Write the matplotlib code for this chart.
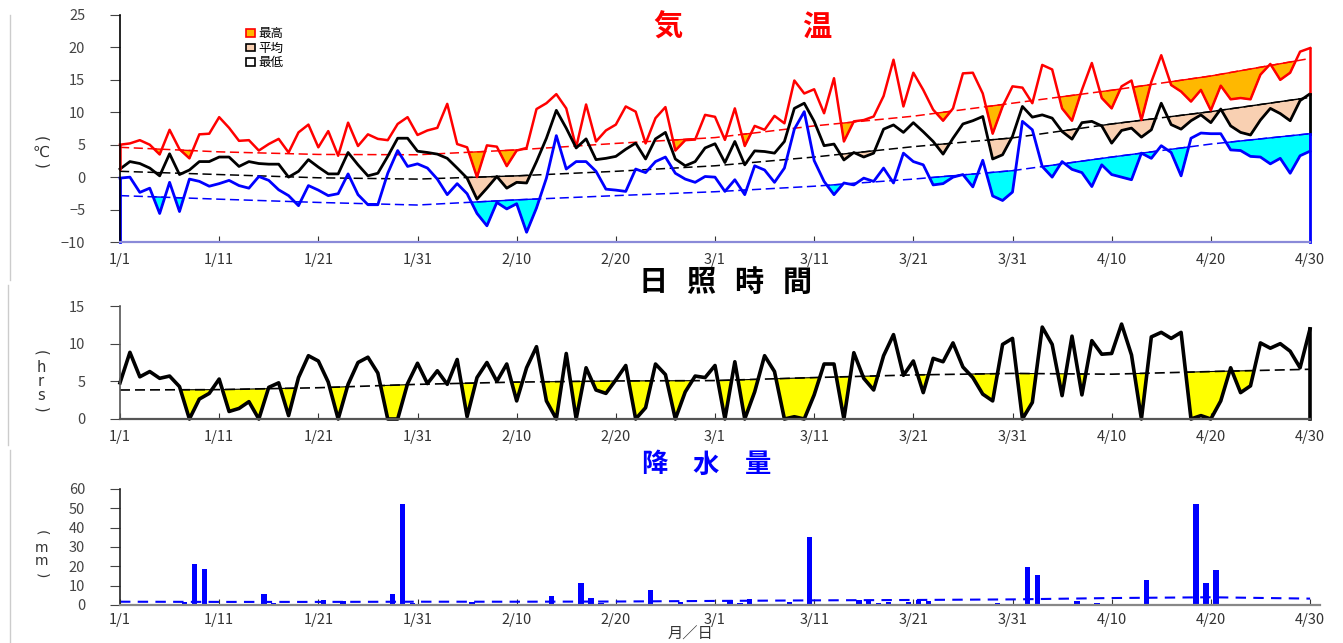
import numpy as np
import matplotlib
matplotlib.use('Agg')
import matplotlib.pyplot as plt
from matplotlib.patches import Patch
from matplotlib.lines import Line2D

plt.rcParams['font.family'] = ['Noto Sans CJK JP', 'DejaVu Sans']

# ---- data (2024-01-01 .. 04-30, day index 0..120) ----
tick_days = [0, 10, 20, 30, 40, 50, 60, 70, 80, 90, 100, 110, 120]
tick_labels = ['1/1', '1/11', '1/21', '1/31', '2/10', '2/20', '3/1',
               '3/11', '3/21', '3/31', '4/10', '4/20', '4/30']

t_max = [5.0, 5.2, 5.7, 5.0, 3.5, 7.3, 4.3, 2.9, 6.6, 6.7, 9.25, 7.6, 5.6, 5.7, 4.1, 5.1,
         5.9, 3.8, 6.9, 8.1, 4.6, 7.1, 3.3, 8.4, 4.8, 6.6, 5.9, 5.7, 8.2, 9.25, 6.5,
         7.2, 7.6, 11.3, 5.1, 4.6, 0.0, 4.9, 4.7, 1.7, 4.1, 4.5, 10.5, 11.4, 12.8, 10.6,
         4.6, 11.2, 5.5, 7.2, 8.1, 10.9, 10.1, 5.2, 9.1, 10.8, 4.1, 5.7, 5.8, 9.6, 9.3,
         5.75, 10.6, 4.8, 7.9, 7.3, 9.45, 8.3, 14.9, 12.9, 13.55, 9.85, 15.25, 5.5, 8.6,
         8.8, 9.35, 12.5, 18.1, 10.9, 16.1, 13.45, 10.4, 8.7, 10.6, 16.0, 16.1, 12.9, 6.7,
         10.9, 14.0,
         13.8, 11.4, 17.3, 16.6, 10.6, 8.7, 13.45, 17.6, 12.2, 10.6, 14.0, 14.9, 8.8, 14.7,
         18.8, 14.2, 13.2, 11.65, 13.45, 10.3, 14.1, 12.0, 12.2, 12.0, 15.8, 17.45, 15.0,
         16.1, 19.35, 19.9]
t_mean = [1.25, 2.4, 2.1, 1.4, 0.2, 3.6, 0.4, 1.1, 2.4, 2.4, 3.1, 3.1, 1.65, 2.4, 2.1, 2.0,
          2.0, 0.0, 0.9, 2.7, 1.55, 0.5, 0.5, 3.8, 1.9, 0.2, 0.6, 3.2, 6.0, 6.0, 4.0,
          3.8, 3.55, 2.9, 1.4, -0.15, -3.4, -1.7, 0.1, -1.7, -0.8, -0.9, 2.4, 6.0, 10.3,
          7.55, 4.5, 5.9, 2.7, 2.9, 3.2, 4.3, 5.25, 2.8, 5.9, 6.9, 2.8, 1.75, 2.4, 4.5, 5.15,
          2.25, 5.5, 1.9, 4.05, 3.95, 3.7, 5.5, 10.6, 11.4, 8.6, 4.85, 5.1, 2.65, 3.8, 3.1,
          3.7, 7.4, 8.05, 6.9, 8.4, 7.0, 5.5, 3.55, 6.0, 8.2, 8.7, 9.35, 2.8, 3.45, 6.3,
          10.9, 9.25, 9.6, 9.1, 7.04, 5.86, 8.4, 8.6, 7.9, 5.24, 7.2, 7.56, 6.17, 7.3, 11.4,
          8.1, 7.4, 8.7, 9.6, 8.4, 10.5, 7.9, 6.9, 6.5, 8.8, 10.6, 9.8, 8.7, 11.8, 12.85]
t_min = [-0.15, 0.0, -2.35, -1.7, -5.6, -0.8, -5.3, -0.3, -0.65, -1.4, -1.0, -0.5, -1.3,
         -1.7, 0.1, -0.5, -1.95, -2.85, -4.4, -1.3, -2.0, -2.85, -2.55, 0.5, -2.7, -4.25,
         -4.25, 0.6, 4.1, 1.65, 2.05,
         1.4, -0.3, -2.7, -1.0, -2.55, -5.6, -7.5, -3.9, -4.9, -4.1, -8.5, -4.75, -0.15,
         6.4, 1.25, 2.4, 2.4, 0.9, -1.85, -2.0, -2.2, 1.25, 0.7, 2.4, 3.1, 0.6, -0.3, -0.8,
         0.1, 0.0,
         -2.2, -0.4, -2.7, 1.75, 1.1, -0.8, 1.4, 7.4, 10.1, 2.55, -0.66, -2.7, -0.9, -1.2,
         -0.15, -0.66, 1.4, -0.9, 3.7, 2.4, 1.9, -1.2, -1.0, 0.0, 0.4, -1.5, 2.6, -2.9,
         -3.6, -2.3,
         8.6, 7.3, 1.65, 0.0, 2.4, 1.2, 0.7, -1.45, 1.9, 0.4, 0.0, -0.4, 3.7, 2.9, 4.85,
         3.8, 0.2, 6.0, 6.8, 6.7, 6.7, 4.2, 4.1, 3.2, 3.1, 2.05, 2.9, 0.6, 3.3, 4.0]

sunshine = [4.8, 8.85, 5.6, 6.3, 5.4, 5.7, 4.3, 0.0, 2.65, 3.4, 5.3, 1.0, 1.4, 2.3, 0.0,
            4.2, 4.8, 0.45, 5.5, 8.4, 7.7, 4.9, 0.0, 4.6, 7.5, 8.2, 6.1, 0.0, 0.0, 4.7, 7.4,
            4.7, 6.4, 4.6, 7.9, 0.3, 5.5, 7.5, 5.0, 7.3, 2.4, 6.8, 9.6, 2.4, 0.0, 8.7, 0.0,
            6.8, 3.85, 3.4, 5.2, 7.1, 0.0, 1.5, 7.3, 5.9, 0.0, 3.6, 5.7, 5.5, 7.1,
            0.0, 7.6, 0.0, 3.6, 8.4, 6.3, 0.0, 0.3, 0.0, 3.2, 7.3, 7.3, 0.0, 8.8, 5.4, 3.85,
            8.4, 11.2, 5.8, 7.7, 3.5, 8.05, 7.6, 10.1, 6.9, 5.5, 3.3, 2.4, 9.9, 10.7,
            0.0, 2.2, 12.2, 9.9, 3.1, 11.0, 3.2, 10.4, 8.6, 8.7, 12.6, 8.5, 0.0, 10.9, 11.5,
            10.7, 11.5, 0.0, 0.45, 0.0, 2.4, 6.8, 3.5, 4.4, 10.1, 9.4, 10.0, 9.0, 6.8, 11.95]

rain_day = [6, 7, 8, 10, 14, 15, 20, 22, 27, 28, 29, 35, 43, 46, 47, 48, 53, 55, 56, 57,
            61, 62, 63, 64, 67, 69, 70, 74, 75, 76, 77, 79, 80, 81, 86, 88, 91, 92, 96, 98,
            103, 104, 108, 109, 110, 114]
rain_mm = [1.5, 21.0, 18.5, 0.5, 5.5, 1.0, 2.5, 2.0, 5.5, 52.5, 1.0, 1.5, 4.5, 11.5, 3.5,
           1.0, 8.0, 0.5, 1.5, 0.5, 2.5, 1.0, 3.0, 0.5, 1.5, 35.0, 0.5, 2.5, 2.5, 1.0, 1.5,
           1.5, 2.5, 2.0, 0.5, 1.0, 19.5, 15.5, 2.0, 1.0, 13.0, 0.5, 52.0, 11.5, 18.0, 0.5]

# normals read every 10 days
max_norm = [4.6, 3.9, 3.5, 3.45, 4.2, 5.2, 6.1, 7.9, 9.4, 11.4, 13.4, 15.6, 18.3]
mean_norm = [0.9, 0.4, -0.1, -0.3, 0.2, 0.9, 1.75, 3.1, 4.7, 6.05, 8.2, 10.1, 12.3]
min_norm = [-2.85, -3.4, -3.9, -4.3, -3.5, -2.85, -2.25, -1.4, -0.3, 1.0, 3.1, 5.1, 6.7]
sun_norm = [3.85, 3.9, 4.15, 4.6, 4.9, 5.05, 5.1, 5.5, 5.85, 6.05, 5.95, 6.3, 6.6]
rain_norm = [1.7, 1.6, 1.6, 1.7, 1.7, 1.8, 2.1, 2.4, 2.6, 2.9, 3.6, 4.0, 3.3]

days = np.arange(len(t_max))
W, H = 1343, 643
fig = plt.figure(figsize=(W / 100, H / 100), dpi=100)


def box(l, t, r, b):
    return [l / W, 1 - b / H, (r - l) / W, (b - t) / H]


def style(ax, bottom_color):
    for s in ('top', 'right'):
        ax.spines[s].set_visible(False)
    ax.spines['left'].set_color('#222222')
    ax.spines['left'].set_linewidth(1.2)
    ax.spines['bottom'].set_color(bottom_color)
    ax.spines['bottom'].set_linewidth(1.6)
    ax.set_xticks(tick_days)
    ax.set_xticklabels(tick_labels)
    ax.tick_params(axis='x', direction='in', length=4, pad=8, labelsize=10.5,
                   colors='#333333')
    ax.tick_params(axis='y', direction='out', length=7, pad=18, labelsize=10.5,
                   colors='#444444')


def normal_fill(ax, obs, norm, fill_c, edge_c):
    nd = np.interp(days, tick_days, norm)
    ob = np.array(obs)
    ax.fill_between(days, ob, nd, where=ob < nd, interpolate=True,
                    facecolor=fill_c, edgecolor=edge_c, linewidth=1.0)


def vertical_label(chars, y_top, y_bottom, letter_ys, size):
    # unit written top-down: turned brackets with upright letters between
    fig.text(41 / W, 1 - y_top / H, '(', color='#333333', fontsize=size,
             rotation=270, ha='center', va='center', family='DejaVu Sans')
    for ch, y in zip(chars, letter_ys):
        fig.text(41 / W, 1 - y / H, ch, color='#333333', fontsize=size,
                 ha='center', va='center', family=['DejaVu Sans'])
    fig.text(41 / W, 1 - y_bottom / H, ')', color='#333333', fontsize=size,
             rotation=270, ha='center', va='center', family='DejaVu Sans')


# ---- temperature ----
ax1 = fig.add_axes(box(120, 15, 1310, 242))
normal_fill(ax1, t_max, max_norm, '#FFB800', 'red')
normal_fill(ax1, t_mean, mean_norm, '#F9D0B2', 'black')
normal_fill(ax1, t_min, min_norm, '#00FFFF', 'blue')
ax1.plot(tick_days, max_norm, color='red', lw=1.1, dashes=(6, 3))
ax1.plot(tick_days, mean_norm, color='black', lw=1.1, dashes=(6, 3))
ax1.plot(tick_days, min_norm, color='blue', lw=1.1, dashes=(6, 3))
ax1.plot(days, t_max, color='red', lw=1.8, clip_on=False)
ax1.plot(days, t_mean, color='black', lw=2.0, clip_on=False)
ax1.plot(days, t_min, color='blue', lw=2.0, clip_on=False)
# closing edges of the original polygons
ax1.plot([days[0]] * 2, [t_max[0], t_mean[0]], color='red', lw=1.8, clip_on=False)
ax1.plot([days[0]] * 2, [t_min[0], -10], color='blue', lw=2.0, clip_on=False)
ax1.plot([days[-1]] * 2, [t_max[-1], t_mean[-1]], color='red', lw=1.8, clip_on=False)
ax1.plot([days[-1]] * 2, [t_mean[-1], min_norm[-1]], color='black', lw=2.0, clip_on=False)
ax1.plot([days[-1]] * 2, [min_norm[-1], -10], color='blue', lw=2.0, clip_on=False)
ax1.set_xlim(0, 120)
ax1.set_ylim(-10, 25)
ax1.set_yticks(range(-10, 26, 5))
style(ax1, '#8a8ad8')
ax1.spines['left'].set_color('black')

handles = [Patch(facecolor='#FFB800', edgecolor='red', lw=1.2),
           Patch(facecolor='#F9D0B2', edgecolor='black', lw=1.2),
           Patch(facecolor='white', edgecolor='black', lw=1.2)]
fig.legend(handles, ['最高', '平均', '最低'], loc='upper left',
           bbox_to_anchor=(240 / W, 1 - 21 / H), frameon=False, fontsize=9,
           handlelength=0.7, handleheight=0.55, handletextpad=0.25,
           labelspacing=0.12, borderpad=0)

fig.text(668 / W, 1 - 27 / H, '気', color='red', fontsize=21, fontweight='bold',
         ha='center', va='center')
fig.text(817 / W, 1 - 27 / H, '温', color='red', fontsize=21, fontweight='bold',
         ha='center', va='center')
vertical_label(['℃'], 139, 166, [152], 11)

# ---- sunshine ----
ax2 = fig.add_axes(box(120, 306, 1310, 419))
sun_n = np.interp(days, tick_days, sun_norm)
sun = np.array(sunshine)
ax2.fill_between(days, sun, sun_n, where=sun < sun_n, interpolate=True,
                 facecolor='#FFFF00', edgecolor='black', linewidth=0.8)
ax2.plot(tick_days, sun_norm, color='black', lw=1.2, dashes=(6, 3))
ax2.plot(days, sunshine, color='black', lw=2.6, clip_on=False)
ax2.plot([days[-1]] * 2, [sunshine[-1], 0], color='black', lw=2.6, clip_on=False)
ax2.set_xlim(0, 120)
ax2.set_ylim(0, 15)
ax2.set_yticks([0, 5, 10, 15])
style(ax2, '#555555')
ax2.spines['left'].set_color('#555555')

for i, ch in enumerate(['日', '照', '時', '間']):
    fig.text((653 + i * 48) / W, 1 - 282 / H, ch, color='black', fontsize=21,
             fontweight='bold', ha='center', va='center')
vertical_label(['h', 'r', 's'], 353, 410, [367, 381, 395], 10.5)

# ---- precipitation ----
ax3 = fig.add_axes(box(120, 489, 1320, 605))
ax3.bar(np.array(rain_day) + 0.5, rain_mm, width=0.55, color='#0000FF')
ax3.plot(tick_days, rain_norm, color='#0000FF', lw=1.5, dashes=(5, 3.5))
ax3.set_xlim(0, 121)
ax3.set_ylim(0, 60)
ax3.set_yticks(range(0, 61, 10))
style(ax3, '#888888')
ax3.tick_params(axis='x', pad=6)

for i, ch in enumerate(['降', '水', '量']):
    fig.text((654 + i * 52) / W, 1 - 465 / H, ch, color='#0000FF', fontsize=19,
             fontweight='bold', ha='center', va='center')
vertical_label(['m', 'm'], 533, 576, [548, 561], 10)
fig.text(690 / W, 1 - 634 / H, '月／日', color='#333333', fontsize=11,
         ha='center', va='center')

# thin frame pieces on the left edge
for x, y0, y1 in [(10, 15, 280), (8, 285, 445), (10, 450, 643)]:
    fig.add_artist(Line2D([x / W, x / W], [1 - y0 / H, 1 - y1 / H],
                          transform=fig.transFigure, color='#cccccc', lw=1))

fig.savefig('out.png', dpi=100)
